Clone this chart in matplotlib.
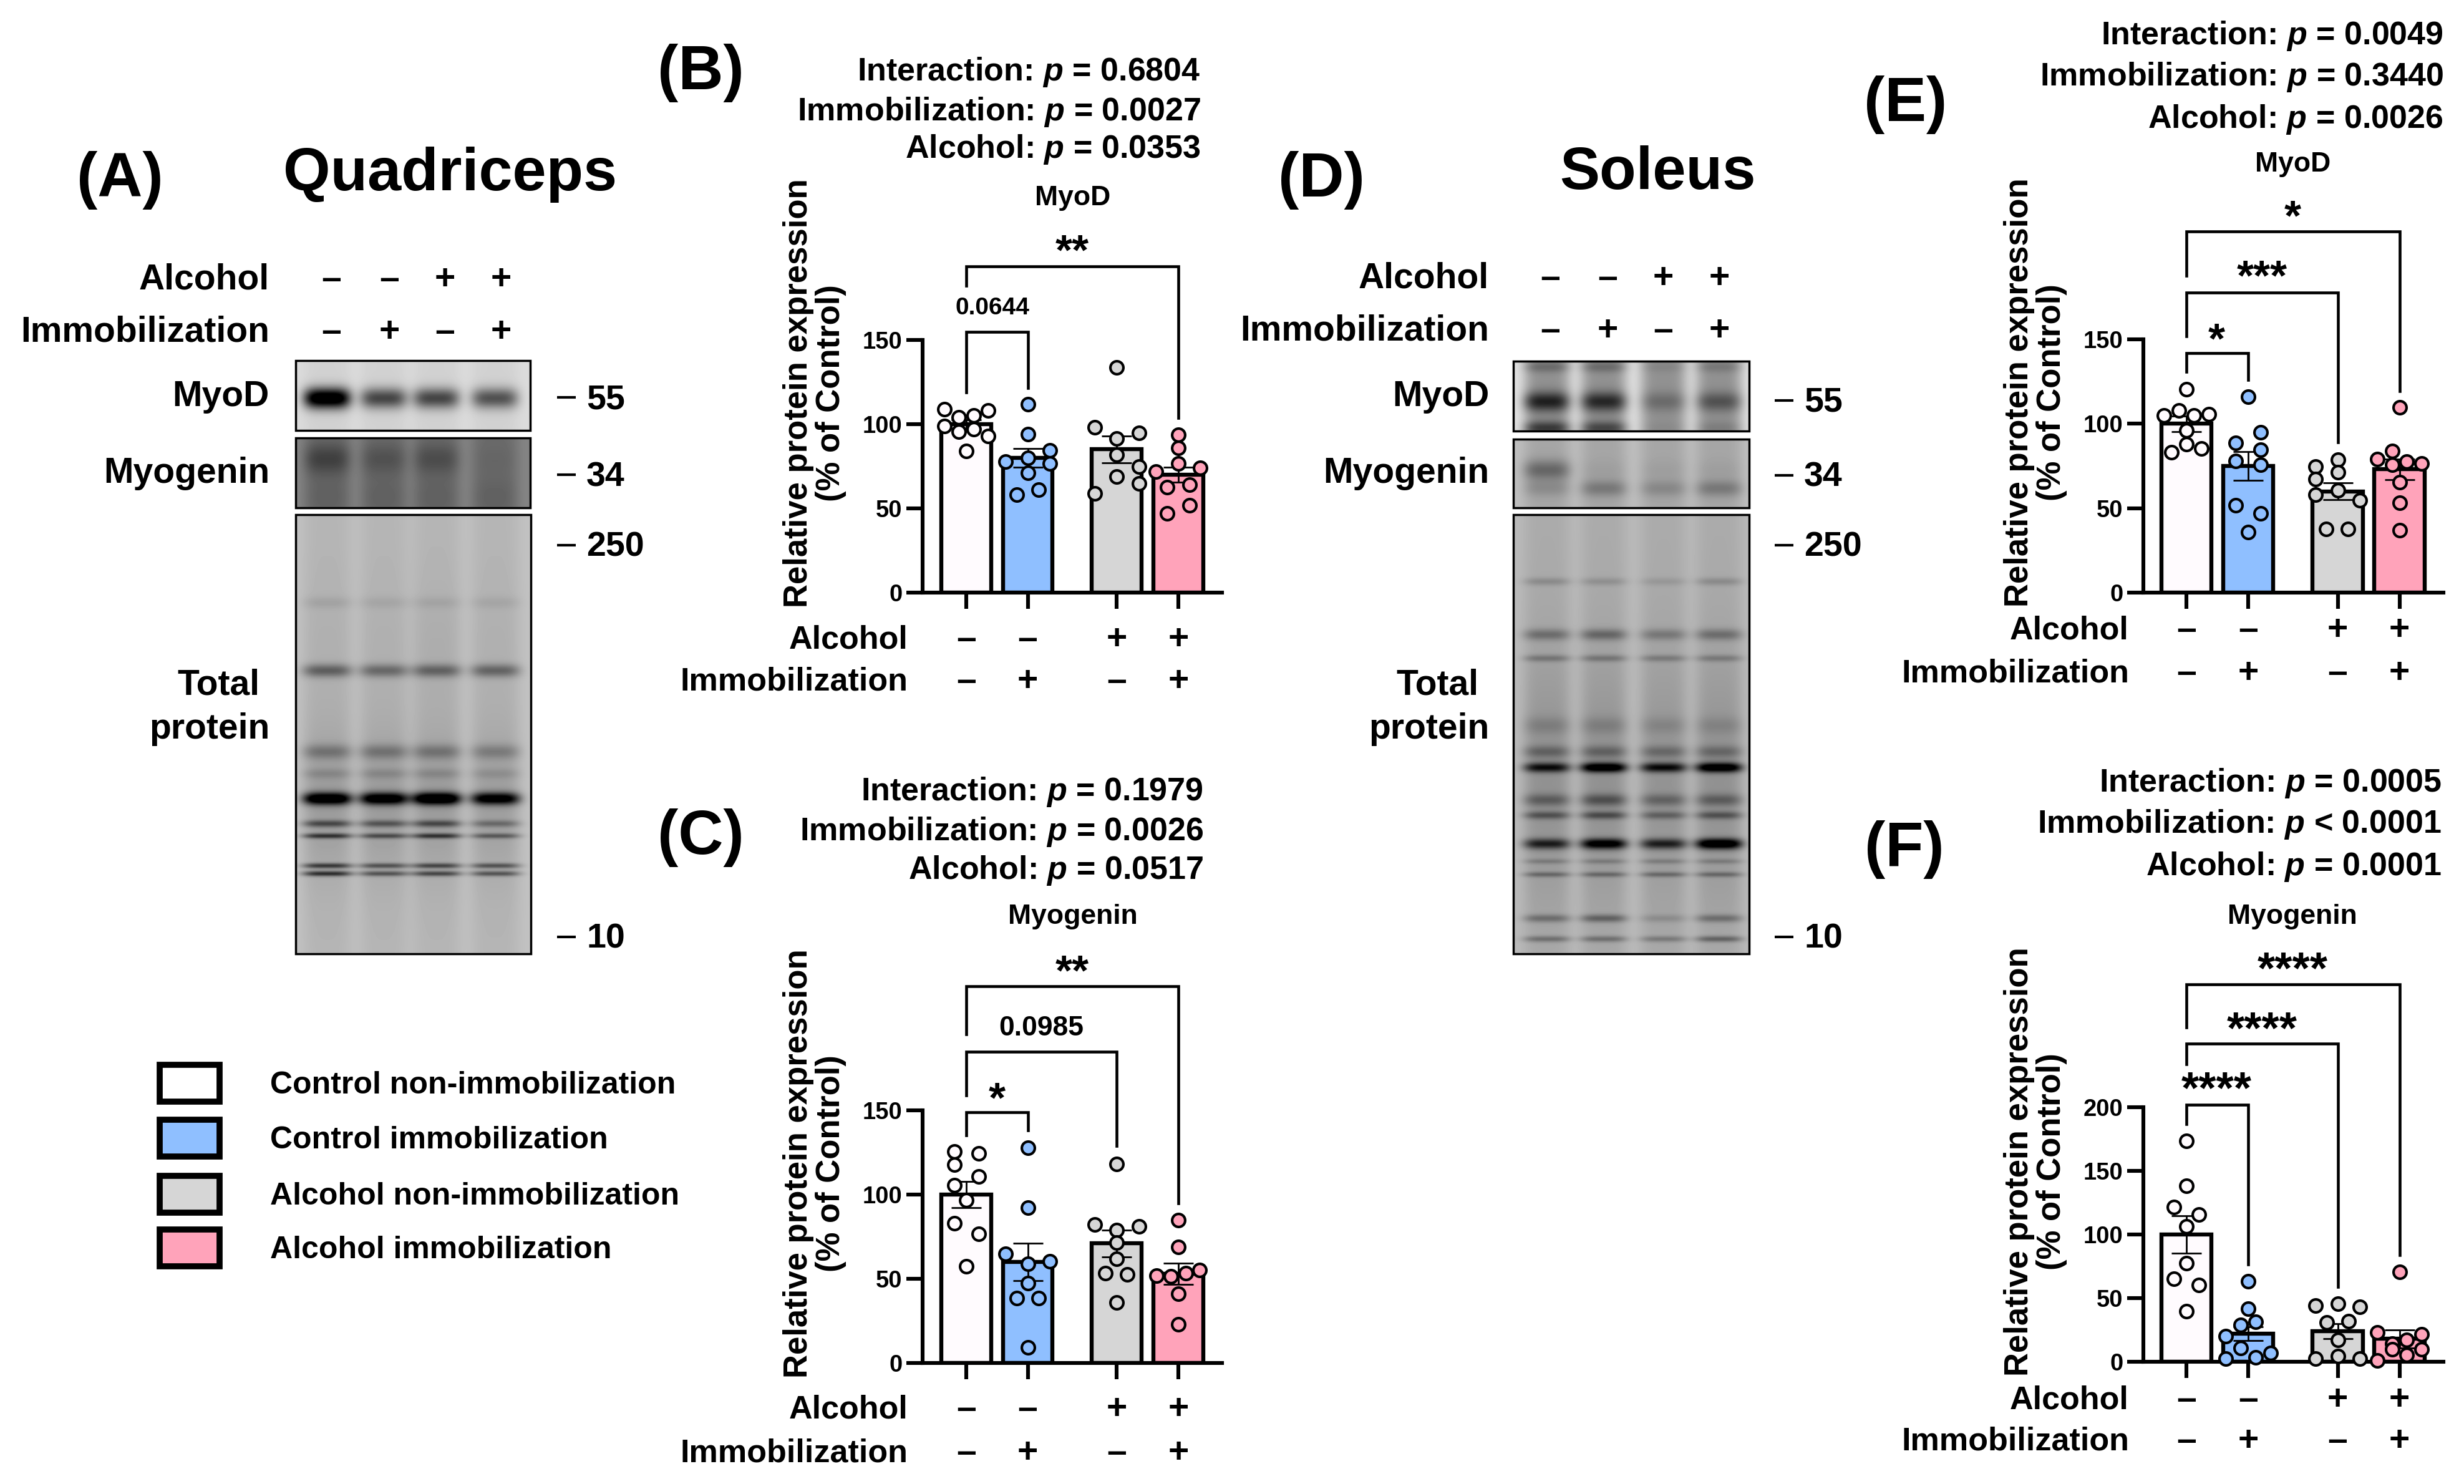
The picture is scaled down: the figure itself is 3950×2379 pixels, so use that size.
import numpy as np
import matplotlib
matplotlib.use("Agg")
import matplotlib.pyplot as plt
from matplotlib.patches import Rectangle

plt.rcParams['font.family'] = ['Liberation Sans', 'DejaVu Sans']
plt.rcParams['font.weight'] = 'bold'
plt.rcParams['mathtext.fontset'] = 'custom'
plt.rcParams['mathtext.bfit'] = 'Liberation Sans:italic:bold'

W, H = 3950, 2379

group_names = ["Control non-immobilization", "Control immobilization",
               "Alcohol non-immobilization", "Alcohol immobilization"]
group_colors = ["#FFFBFE", "#8FBFFF", "#D6D6D6", "#FFA3BA"]
legend_colors = ["#FFFFFF", "#8FBFFF", "#D6D6D6", "#FFA3BA"]
bar_x = [0, 1, 2.45, 3.45]
alcohol_signs = ["–", "–", "+", "+"]
immob_signs = ["–", "+", "–", "+"]

# Panel B, quadriceps MyoD
b_means = [100, 80, 85, 70]
b_sem = [2.5, 5.5, 8, 4.5]
b_points = [[109, 108, 104, 105, 99, 95.5, 97, 93, 84],
            [112, 94, 84.6, 77.6, 80, 76.5, 71, 61, 58],
            [133.6, 98, 94.7, 91.3, 82, 74.7, 68.8, 64.9, 59],
            [93.7, 86, 76.5, 72, 74, 62.5, 64, 52, 47]]
b_jitter = [[-.36, .36, -.12, .12, -.36, -.12, .12, .36, 0],
            [0, 0, .36, -.36, 0, .36, 0, .18, -.18],
            [0, -.36, .36, 0, 0, .36, 0, .36, -.36],
            [0, 0, 0, -.36, .36, -.18, .18, .18, -.18]]
b_brackets = [(1, 154.7, 118.8, 121.4), (3, 193.6, 182.4, 103.8)]
b_marks = [("0.0644", .43, 169, 28), ("**", 1.72, 205.8, 50)]
b_p = ["Interaction: $\\mathbfit{p}$ = 0.6804",
       "Immobilization: $\\mathbfit{p}$ = 0.0027",
       "Alcohol: $\\mathbfit{p}$ = 0.0353"]

# Panel C, quadriceps myogenin
c_means = [100, 60, 71, 53]
c_sem = [7.7, 11, 8, 6.3]
c_points = [[125.5, 124.3, 117.7, 110.7, 105.4, 96.5, 82.8, 76.7, 57.4],
            [127.7, 92.3, 65, 60.5, 59, 47.4, 38.5, 38.5, 9.2],
            [118.2, 82.2, 81, 79, 71.6, 61.9, 53.5, 52.7, 36],
            [84.8, 68.9, 51.9, 51.3, 53.3, 55.2, 41, 22.9]]
c_jitter = [[-.19, .2, -.19, .2, -.19, 0, -.19, .2, 0],
            [0, 0, -.36, .36, 0, 0, -.18, .18, 0],
            [0, -.36, .36, 0, 0, 0, -.19, .17, 0],
            [0, 0, -.35, -.12, .12, .35, 0, 0]]
c_brackets = [(1, 149, 135, 138), (2, 184.8, 159, 128.8), (3, 223.6, 195, 94.8)]
c_marks = [("*", .5, 160, 50), ("0.0985", 1.22, 198.8, 32), ("**", 1.72, 235.6, 50)]
c_p = ["Interaction: $\\mathbfit{p}$ = 0.1979",
       "Immobilization: $\\mathbfit{p}$ = 0.0026",
       "Alcohol: $\\mathbfit{p}$ = 0.0517"]

# Panel E, soleus MyoD
e_means = [100, 75, 60, 73]
e_sem = [4.5, 8.5, 5, 6]
e_points = [[120.4, 105, 108, 105, 105.6, 95.9, 88, 83, 85.3],
            [116, 94.8, 88.5, 84.5, 78, 75.8, 51.8, 47, 35.9],
            [78.7, 74.5, 71.3, 67.3, 58, 60.7, 54.7, 37.8, 37.8],
            [109.6, 84, 79, 77.6, 76.6, 75.8, 65.5, 53.3, 37]]
e_jitter = [[0, -.36, -.12, .12, .36, 0, 0, -.24, .24],
            [0, .2, -.2, .2, -.2, .2, -.2, .2, 0],
            [0, -.36, 0, -.36, -.36, 0, .36, -.19, .17],
            [0, -.12, -.36, .12, .36, -.12, 0, 0, 0]]
e_brackets = [(1, 141.8, 130.7, 126), (2, 177.7, 151.9, 89), (3, 213.9, 187.5, 119.4)]
e_marks = [("*", .49, 153, 50), ("***", 1.22, 190, 50), ("*", 1.72, 225.8, 50)]
e_p = ["Interaction: $\\mathbfit{p}$ = 0.0049",
       "Immobilization: $\\mathbfit{p}$ = 0.3440",
       "Alcohol: $\\mathbfit{p}$ = 0.0026"]

# Panel F, soleus myogenin
f_means = [100, 22, 24, 18]
f_sem = [14.5, 5.5, 6, 7]
f_points = [[173.4, 138, 121.8, 115.5, 106.3, 77.5, 65.3, 60.5, 39.9],
            [63, 41.7, 31.4, 29, 20.3, 11, 7, 2.6, 3.3],
            [44.3, 45.4, 43.2, 31, 32, 17.3, 2.6, 4.4, 2.6],
            [70.8, 23.2, 21.8, 17, 14.4, 9.6, 10, 5.2, 1.1]]
f_jitter = [[0, 0, -.2, .2, 0, 0, -.2, .2, 0],
            [0, 0, .125, -.125, -.36, -.125, .36, -.36, .125],
            [-.36, 0, .36, -.18, .18, 0, -.36, 0, .36],
            [0, -.36, .36, .12, -.12, -.12, .36, .12, -.36]]
f_brackets = [(1, 201.8, 187, 76.4), (2, 249.8, 234, 58.7), (3, 296.7, 262.7, 83.8)]
f_marks = [("****", .49, 218.4, 52), ("****", 1.22, 265.3, 52), ("****", 1.72, 312.5, 52)]
f_p = ["Interaction: $\\mathbfit{p}$ = 0.0005",
       "Immobilization: $\\mathbfit{p}$ < 0.0001",
       "Alcohol: $\\mathbfit{p}$ = 0.0001"]

# Blot bands: (height in the box, thickness, darkness per lane)
quad_lanes = [.134, .375, .6, .85]
sol_lanes = [.142, .383, .637, .873]
quad_myod = [(.54, .15, [1.0, .55, .55, .5])]
quad_myog = [(.3, .22, [.17, .1, .12, .02]), (.85, .3, [.04, .04, .04, .04])]
quad_total = [(.2, .014, [.06, .05, .05, .05]), (.355, .015, [.32, .28, .3, .3]),
              (.54, .017, [.2, .2, .2, .17]), (.59, .012, [.1, .1, .1, .08]),
              (.647, .014, [.85, .8, .9, .75]), (.704, .008, [.35, .3, .35, .22]),
              (.732, .006, [.45, .35, .45, .3]), (.8, .006, [.45, .35, .4, .35]),
              (.818, .006, [.5, .35, .4, .35]), (.65, .17, [.1, .1, .1, .09]),
              (.3, .15, [.02, .02, .03, .02])]
sol_myod = [(.08, .08, [.15, .15, .05, .1]), (.58, .14, [.45, .42, .15, .25]),
            (.96, .1, [.35, .3, .03, .08])]
sol_myog = [(.45, .15, [.25, .03, .03, .03]), (.72, .12, [.1, .18, .12, .18])]
sol_total = [(.152, .009, [.12, .1, .07, .12]), (.273, .013, [.22, .25, .18, .22]),
             (.327, .008, [.18, .18, .16, .16]), (.48, .02, [.1, .1, .08, .08]),
             (.54, .014, [.2, .2, .18, .18]), (.576, .011, [.55, .75, .57, .75]),
             (.65, .014, [.22, .27, .2, .22]), (.685, .009, [.27, .3, .22, .27]),
             (.75, .012, [.5, .7, .5, .8]), (.79, .006, [.13, .13, .13, .13]),
             (.82, .006, [.22, .22, .22, .22]), (.92, .009, [.22, .27, .1, .22]),
             (.967, .007, [.22, .22, .18, .27]), (.6, .28, [.1, .1, .09, .1])]


def gel_image(w, h, lanes, half, base, gutter, lane_shade, bands):
    # build a grey blot picture from band lists
    xx, yy = np.meshgrid(np.linspace(0, 1, w), np.linspace(0, 1, h))
    img = np.full((h, w), float(base)) + gutter
    for i, cx in enumerate(lanes):
        prof = np.exp(-np.abs((xx - cx) / half) ** 4)
        img -= (gutter + lane_shade) * prof
        for y0, sig, dark in bands:
            img -= dark[i] * prof * np.exp(-((yy - y0) / sig) ** 2)
    return np.clip(img, 0, 1)


fig = plt.figure(figsize=(W / 100, H / 100), dpi=100, facecolor='white')
page = fig.add_axes([0, 0, 1, 1])
page.set_xlim(0, W)
page.set_ylim(H, 0)
page.axis('off')


def put(x, y, s, size=37.5, ha='center', **kw):
    # y is the visual middle of the text, the line box sits a little above it
    page.text(x, y + 4, s, fontsize=size, ha=ha, va='center', fontweight='bold', **kw)


def blot(x0, x1, y0, y1, lanes, half, base, gutter, shade, bands):
    w, h = int(x1 - x0), int(y1 - y0)
    img = gel_image(w, h, lanes, half, base, gutter, shade, bands)
    page.imshow(img, cmap='gray', vmin=0, vmax=1, extent=(x0, x1, y1, y0),
                aspect='auto', interpolation='bilinear', zorder=1)
    page.add_patch(Rectangle((x0, y0), x1 - x0, y1 - y0, fill=False, ec='black', lw=2.5, zorder=2))


def side_labels(right, total_right, xs, ys, dash_x, num_x, mw_y):
    put(right, ys[0], "Alcohol", 41, ha='right')
    put(right, ys[1], "Immobilization", 41, ha='right')
    put(right, 632, "MyoD", 41, ha='right')
    put(right, 755, "Myogenin", 41, ha='right')
    put(total_right, 1095, "Total", 41, ha='right')
    put(right, 1165, "protein", 41, ha='right')
    for x, a, b in zip(xs, alcohol_signs, immob_signs):
        put(x, ys[0], a, 41)
        put(x, ys[1], b, 41)
    for y, s in zip(mw_y, ["55", "34", "250", "10"]):
        page.plot(dash_x, [y, y], color='black', lw=3, solid_capstyle='butt')
        put(num_x, y, s, 40, ha='left')


def panel(box, ymax, yticks, means, sem, points, jitter, brackets, marks, title, ptext, texts):
    left, right, y0, ytop, c0, unit = box
    ax = fig.add_axes([left / W, 1 - y0 / H, (right - left) / W, (y0 - ytop) / H])
    ax.patch.set_visible(False)
    ax.set_xlim((left - c0) / unit, (right - c0) / unit)
    ax.set_ylim(0, ymax)
    for s in ['top', 'right']:
        ax.spines[s].set_visible(False)
    for s in ['left', 'bottom']:
        ax.spines[s].set_linewidth(4.4)
    ax.bar(bar_x, means, width=0.81, color=group_colors, edgecolor='black', linewidth=4.6, zorder=2)
    ax.errorbar(bar_x, means, yerr=sem, fmt='none', ecolor='black', elinewidth=2,
                capsize=17, capthick=2, zorder=3)
    for i in range(4):
        xs = bar_x[i] + np.array(jitter[i])
        ax.scatter(xs, points[i], s=225, facecolor=group_colors[i], edgecolor='black',
                   linewidth=3, zorder=4, clip_on=False)
    ax.set_yticks(yticks)
    ax.set_xticks(bar_x)
    ax.set_xticklabels([])
    ax.tick_params(axis='both', width=4.4, length=18.5)
    ax.tick_params(axis='y', labelsize=27.5, pad=5)
    for lab in ax.get_yticklabels():
        lab.set_fontweight('bold')
    # significance brackets
    for end, top, foot_l, foot_r in brackets:
        ax.plot([0, 0, bar_x[end], bar_x[end]], [foot_l, top, top, foot_r], color='black',
                lw=3.3, clip_on=False, zorder=5, solid_joinstyle='miter')
    for s, x, y, size in marks:
        if '*' in s:
            ax.annotate(s, (x, y), xytext=(0, -0.42 * size), textcoords='offset points',
                        ha='center', va='baseline', fontsize=size, fontweight='bold',
                        annotation_clip=False)
        else:
            ax.text(x, y, s, ha='center', va='center', fontsize=size, fontweight='bold', clip_on=False)
    # sign rows under the axis
    row_a, row_i = texts['rows']
    for x, a, b in zip(bar_x, alcohol_signs, immob_signs):
        px = c0 + x * unit
        put(px, row_a, a, 41)
        put(px, row_i, b, 41)
    put(texts['row_right'], row_a, "Alcohol", ha='right')
    put(texts['row_right'], row_i, "Immobilization", ha='right')
    put(texts['title_x'], texts['title_y'], title, 32)
    for y, s in zip(texts['p_y'], ptext):
        put(texts['p_right'], y, s, ha='right')
    put(texts['yl_x'], texts['yl_y'] - 4, "Relative protein expression\n(% of Control)", size=38,
        rotation=90, linespacing=1.07, multialignment='center')
    put(texts['tag'][0], texts['tag'][1], texts['tag'][2], 72)


# western blots
put(192, 285, "(A)", 72)
put(722, 276, "Quadriceps", 70)
blot(474, 850, 578, 690, quad_lanes, .1, .84, .02, .02, quad_myod)
blot(474, 850, 702, 814, quad_lanes, .1, .46, .06, .04, quad_myog)
blot(474, 851, 825, 1529, quad_lanes, .105, .74, .02, .03, quad_total)
side_labels(432, 416, [531, 624, 713, 803], [445, 529], [893, 923], 940, [637, 761, 874, 1502])

put(2118, 285, "(D)", 72)
put(2657, 274, "Soleus", 69)
blot(2426, 2804, 579, 691, sol_lanes, .1, .62, .27, .05, sol_myod)
blot(2426, 2804, 704, 814, sol_lanes, .1, .68, .07, .03, sol_myog)
blot(2426, 2804, 825, 1529, sol_lanes, .1, .7, .03, .03, sol_total)
side_labels(2387, 2370, [2485, 2577, 2666, 2756], [443, 527], [2845, 2875], 2892, [642, 762, 874, 1502])

# legend
for y, name, col in zip([1736, 1824, 1914, 2000], group_names, legend_colors):
    page.add_patch(Rectangle((256, y - 29), 96, 59, fc=col, ec='black', lw=7))
    put(433, y, name, 36, ha='left')

panel((1479, 1959, 950, 545, 1549, 98.5), 150, [0, 50, 100, 150], b_means, b_sem, b_points, b_jitter,
      b_brackets, b_marks, "MyoD", b_p,
      dict(rows=(1022, 1089), row_right=1456, title_x=1720, title_y=314, p_y=[112, 175, 236],
           p_right=1925, yl_x=1306, yl_y=630, tag=(1123, 113, "(B)")))
panel((1479, 1959, 2185, 1780, 1549, 98.5), 150, [0, 50, 100, 150], c_means, c_sem, c_points, c_jitter,
      c_brackets, c_marks, "Myogenin", c_p,
      dict(rows=(2256, 2326), row_right=1456, title_x=1720, title_y=1465, p_y=[1266, 1329, 1392],
           p_right=1929, yl_x=1306, yl_y=1865, tag=(1123, 1339, "(C)")))
panel((3436, 3917, 950, 544, 3505, 99), 150, [0, 50, 100, 150], e_means, e_sem, e_points, e_jitter,
      e_brackets, e_marks, "MyoD", e_p,
      dict(rows=(1007, 1076), row_right=3413, title_x=3676, title_y=259, p_y=[54, 119, 188],
           p_right=3917, yl_x=3263, yl_y=629, tag=(3055, 164, "(E)")))
panel((3436, 3917, 2183, 1775, 3505, 99), 200, [0, 50, 100, 150, 200], f_means, f_sem, f_points, f_jitter,
      f_brackets, f_marks, "Myogenin", f_p,
      dict(rows=(2241, 2307), row_right=3413, title_x=3675, title_y=1465, p_y=[1251, 1318, 1386],
           p_right=3914, yl_x=3263, yl_y=1862, tag=(3053, 1358, "(F)")))

fig.savefig("out.png", dpi=100)
